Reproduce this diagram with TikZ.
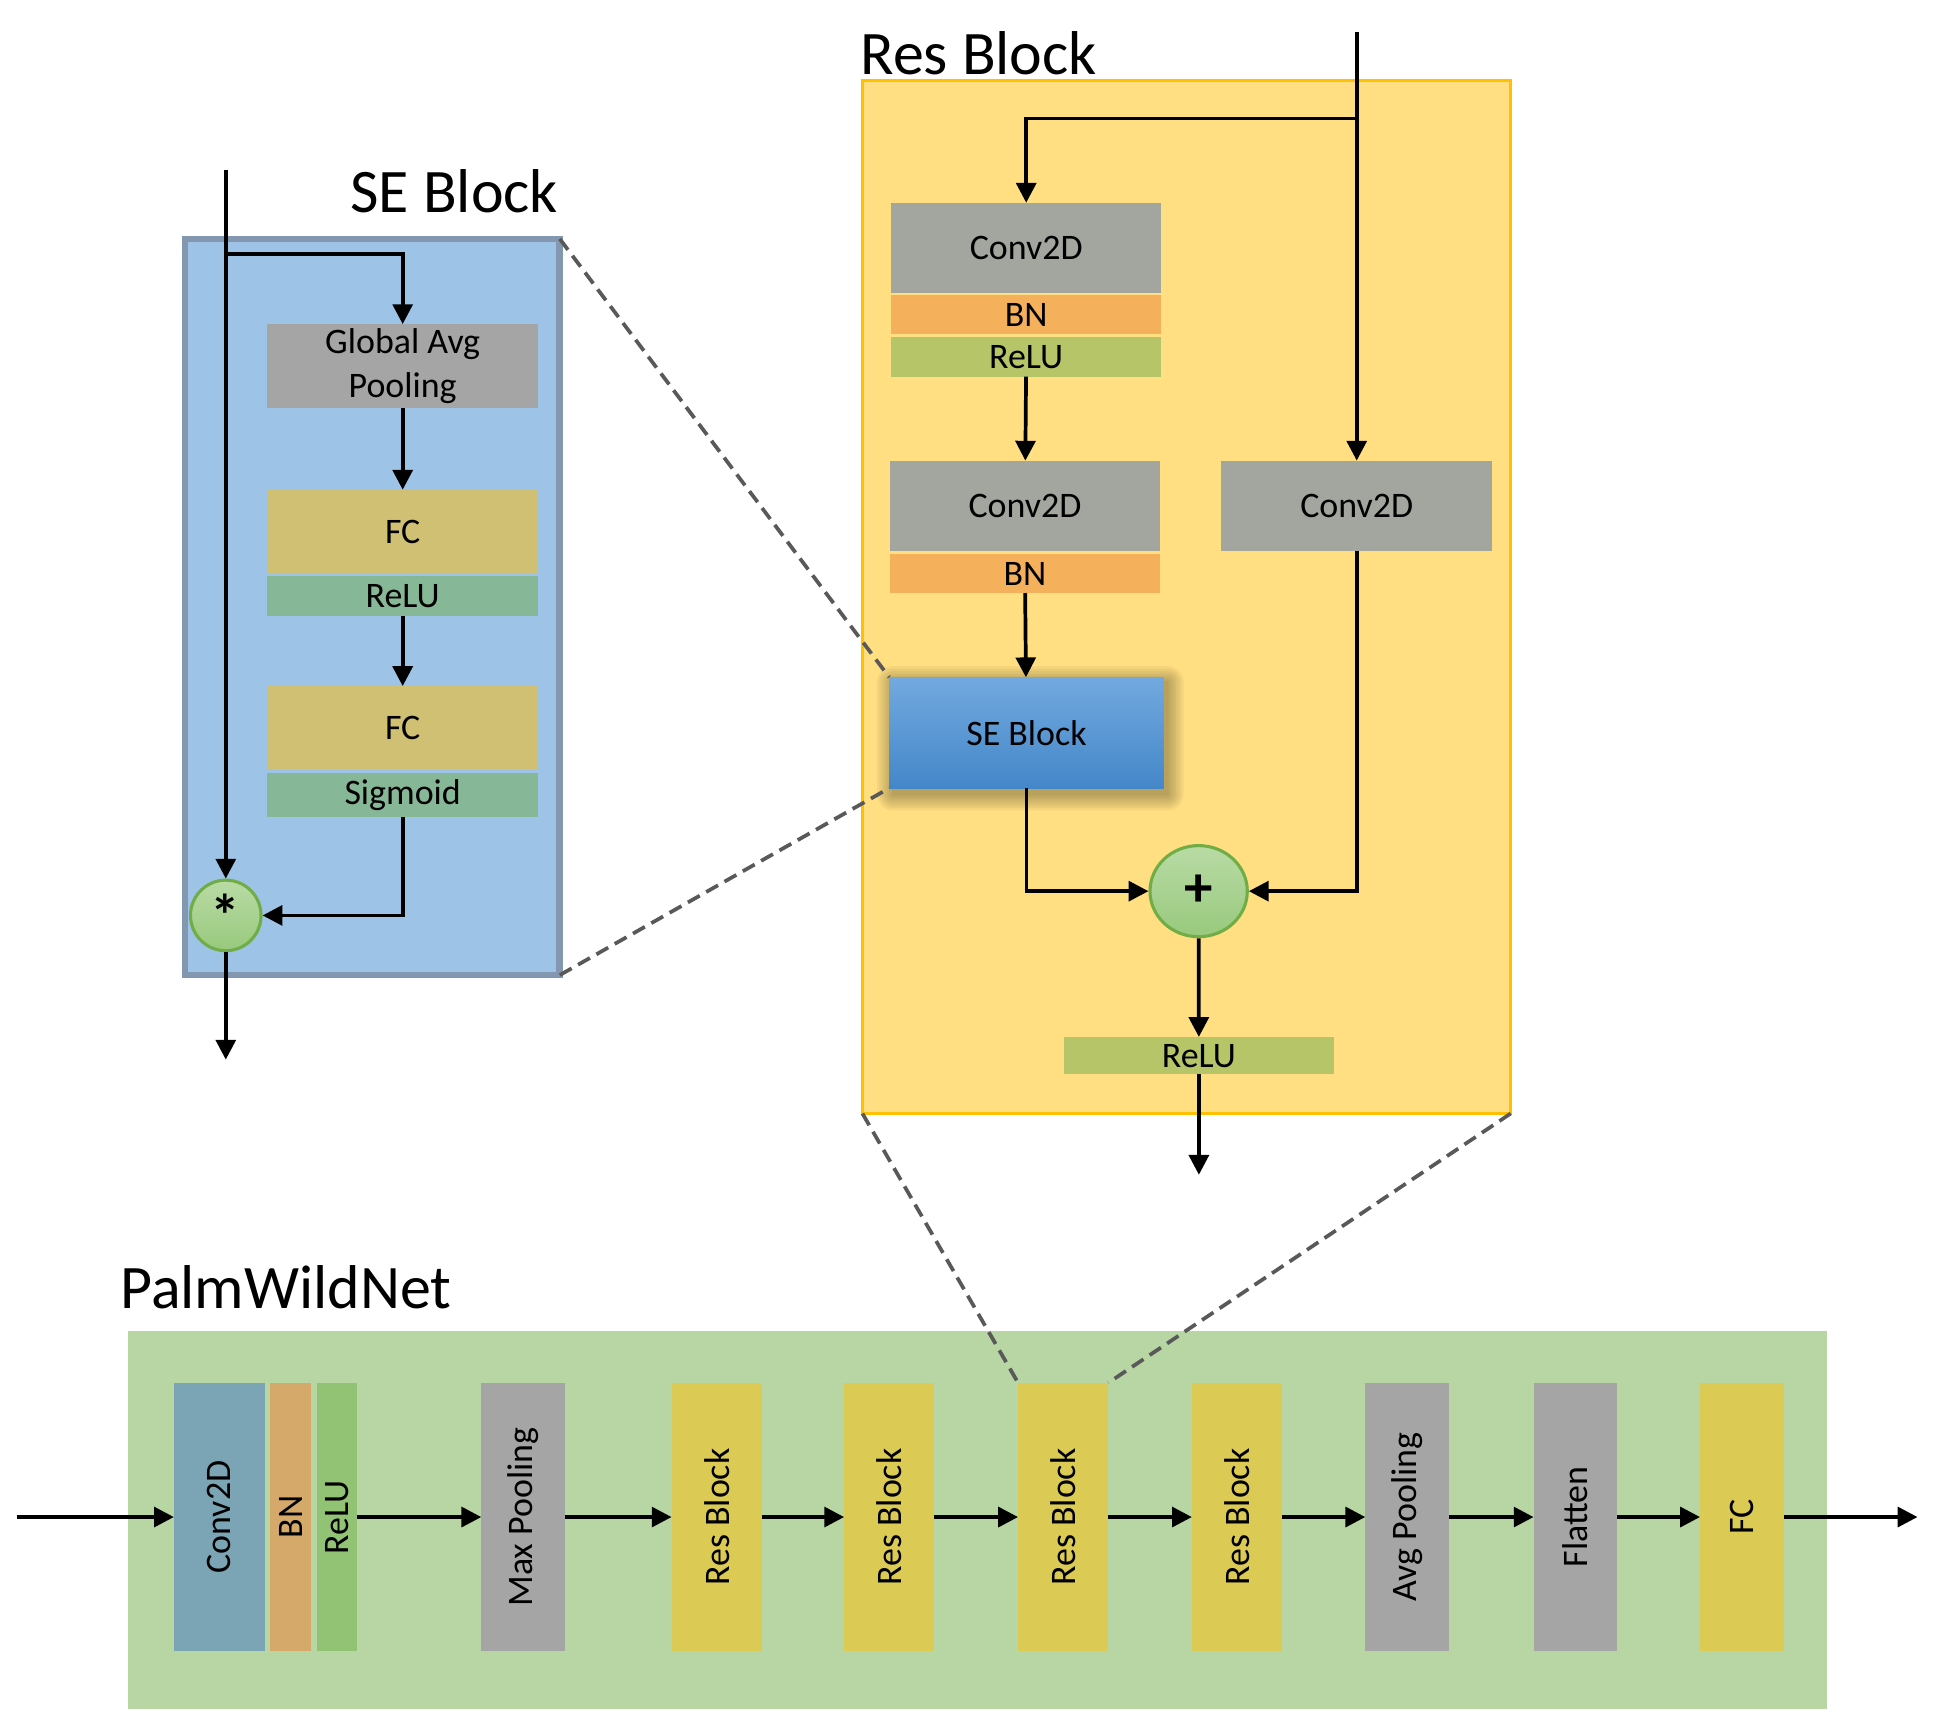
\documentclass[tikz,border=0pt]{standalone}
\usepackage{fontspec}
\usepackage{graphicx}
\setmainfont{Carlito}
\usetikzlibrary{arrows.meta,shapes.geometric}
\definecolor{seback}{HTML}{9DC3E6}
\definecolor{seline}{HTML}{8497B0}
\definecolor{gapgray}{HTML}{A5A5A5}
\definecolor{fckhaki}{HTML}{D0C074}
\definecolor{actgreen}{HTML}{86B796}
\definecolor{resback}{HTML}{FFDF82}
\definecolor{resline}{HTML}{FFC000}
\definecolor{convgray}{HTML}{A2A69E}
\definecolor{bnorange}{HTML}{F5B05B}
\definecolor{reluolive}{HTML}{B5C567}
\definecolor{setop}{HTML}{72A9DF}
\definecolor{sebot}{HTML}{4487C9}
\definecolor{addtop}{HTML}{B9DBA5}
\definecolor{addbot}{HTML}{98C97D}
\definecolor{addline}{HTML}{70AD47}
\definecolor{pwnback}{HTML}{B7D6A4}
\definecolor{pconvc}{HTML}{7BA5B4}
\definecolor{pbnc}{HTML}{D4A96A}
\definecolor{preluc}{HTML}{92C374}
\definecolor{presc}{HTML}{DBCB55}
\definecolor{zoomgray}{HTML}{595959}
\newcommand{\lbl}{\fontsize{29}{36}\selectfont}
\newcommand{\ttl}{\fontsize{50}{60}\selectfont}

\begin{document}
\begin{tikzpicture}[x=1pt, y=-1pt,
	arr/.style={line width=3pt, -{Triangle[length=16pt,width=16pt]}},
	layer/.style={rectangle, inner sep=0pt, outer sep=0pt, font=\lbl},
	col/.style={layer, minimum height=217},
	title/.style={anchor=base west, inner sep=0pt, font=\ttl},
	zoomline/.style={line width=3pt, zoomgray, dash pattern=on 11pt off 6pt}]
	\useasboundingbox (0,0) rectangle (1568,1394.3);
	
	%se block, zoomed in
	\node[rectangle, draw=seline, line width=5.5pt, fill=seback, inner sep=0pt, outer sep=0pt, minimum width=302.7, minimum height=594.7] (sebox) at (300.85,490.35) {};
	\node[title] (setitle) at (283,171.7) {SE Block};
	\coordinate (sein) at (182.4,137);
	\coordinate (sesplit) at (182.4,205);
	\coordinate (seout) at (182.4,856);
	\node[layer, fill=gapgray, minimum width=219, minimum height=68, align=center] (segap) at (325.3,295.8) {Global Avg\\Pooling};
	\node[layer, fill=fckhaki, minimum width=219, minimum height=68] (sefc1) at (325.3,429.6) {FC};
	\node[layer, fill=actgreen, minimum width=219, minimum height=32] (serelu) at (325.3,481.7) {ReLU};
	\node[layer, fill=fckhaki, minimum width=219, minimum height=68] (sefc2) at (325.3,588.2) {FC};
	\node[layer, fill=actgreen, minimum width=219, minimum height=36] (sesig) at (325.3,642.1) {Sigmoid};
	\node[circle, draw=addline, line width=2.5pt, top color=addtop, bottom color=addbot, minimum size=57, inner sep=0pt, font=\bfseries\fontsize{48}{48}\selectfont] (semul) at (182.4,739.5) {*};
	\draw[arr] (sein) -- (semul);
	\draw[arr] (sesplit) -| (segap);
	\draw[arr] (segap) -- (sefc1);
	\draw[arr] (serelu) -- (sefc2);
	\draw[arr] (sesig) |- (semul);
	\draw[arr] (semul) -- (seout);
	
	%res block, zoomed in
	\node[rectangle, draw=resline, line width=2.5pt, fill=resback, inner sep=0pt, outer sep=0pt, minimum width=523.7, minimum height=834.6] (resbox) at (958.55,482.2) {};
	\node[title] (restitle) at (695,60) {Res Block};
	\coordinate (rin) at (1096,26);
	\coordinate (rsplit) at (1096,95.8);
	\coordinate (rout) at (968.5,949);
	\node[layer, fill=convgray, minimum width=218, minimum height=73] (rconv1) at (829,200.3) {Conv2D};
	\node[layer, fill=bnorange, minimum width=218, minimum height=31.6] (rbn1) at (829,254.4) {BN};
	\node[layer, fill=reluolive, minimum width=218, minimum height=32.2] (rrelu1) at (829,288.1) {ReLU};
	\node[layer, fill=convgray, minimum width=218, minimum height=73] (rconv2) at (828,408.6) {Conv2D};
	\node[layer, fill=bnorange, minimum width=218, minimum height=31.5] (rbn2) at (828,463.3) {BN};
	%soft shadow under the se block
	\foreach \s in {1,3,...,13}
		\fill[black, opacity=0.045, rounded corners=\s pt] (721.4-\s,551.1-\s) rectangle (943.1+\s,641.7+\s);
	\node[layer, top color=setop, bottom color=sebot, minimum width=221.7, minimum height=89.6] (rse) at (829.2,591.9) {SE Block};
	\node[layer, fill=convgray, minimum width=219, minimum height=73] (rconv3) at (1096,408.6) {Conv2D};
	\node[ellipse, draw=addline, line width=2.5pt, top color=addtop, bottom color=addbot, minimum width=78.6, minimum height=73.6, inner sep=0pt, font=\bfseries\fontsize{46}{46}\selectfont] (radd) at (968.3,719.9) {+};
	\node[layer, fill=reluolive, minimum width=218, minimum height=30.3] (rrelu2) at (968.5,852.8) {ReLU};
	\draw[arr] (rin) -- (rconv3);
	\draw[arr] (rsplit) -| (rconv1);
	\draw[arr] (rrelu1) -- (rconv2);
	\draw[arr] (rbn2) -- (rse);
	\draw[arr] (rse) |- (radd);
	\draw[arr] (rconv3) |- (radd);
	\draw[arr] (radd) -- (rrelu2);
	\draw[arr] (rrelu2) -- (rout);
	
	%whole network
	\fill[pwnback] (103,1075.5) rectangle (1476.2,1380.5);
	\node[title] (pwntitle) at (97,1056.7) {PalmWildNet};
	\coordinate (pin) at (13.5,1225.5);
	\coordinate (pout) at (1549,1225.5);
	\node[col, fill=pconvc, minimum width=73.5] (pconv) at (177.2,1225.5) {\rotatebox{90}{Conv2D}};
	\node[col, fill=pbnc, minimum width=33] (pbn) at (234.9,1225.5) {\rotatebox{90}{BN}};
	\node[col, fill=preluc, minimum width=32.4] (prelu) at (272.1,1225.5) {\rotatebox{90}{ReLU}};
	\node[col, fill=gapgray, minimum width=67.4] (pmax) at (422.5,1225.5) {\rotatebox{90}{Max Pooling}};
	\foreach \n/\x in {1/579, 2/718.4, 3/858.9, 4/999.3}
		\node[col, fill=presc, minimum width=73] (pres\n) at (\x,1225.5) {\rotatebox{90}{Res Block}};
	\node[col, fill=gapgray, minimum width=68] (pavg) at (1136.9,1225.5) {\rotatebox{90}{Avg Pooling}};
	\node[col, fill=gapgray, minimum width=67.5] (pflat) at (1272.6,1225.5) {\rotatebox{90}{Flatten}};
	\node[col, fill=presc, minimum width=68] (pfc) at (1407.3,1225.5) {\rotatebox{90}{FC}};
	\foreach \a/\b in {pin/pconv, prelu/pmax, pmax/pres1, pres1/pres2, pres2/pres3, pres3/pres4, pres4/pavg, pavg/pflat, pflat/pfc, pfc/pout}
		\draw[arr] (\a) -- (\b);
	
	%zoom lines
	\draw[zoomline] (sebox.north east) -- (rse.north west);
	\draw[zoomline] (sebox.south east) -- (rse.south west);
	\draw[zoomline] (resbox.south west) -- (pres3.north west);
	\draw[zoomline] (resbox.south east) -- (pres3.north east);
\end{tikzpicture}
\end{document}
